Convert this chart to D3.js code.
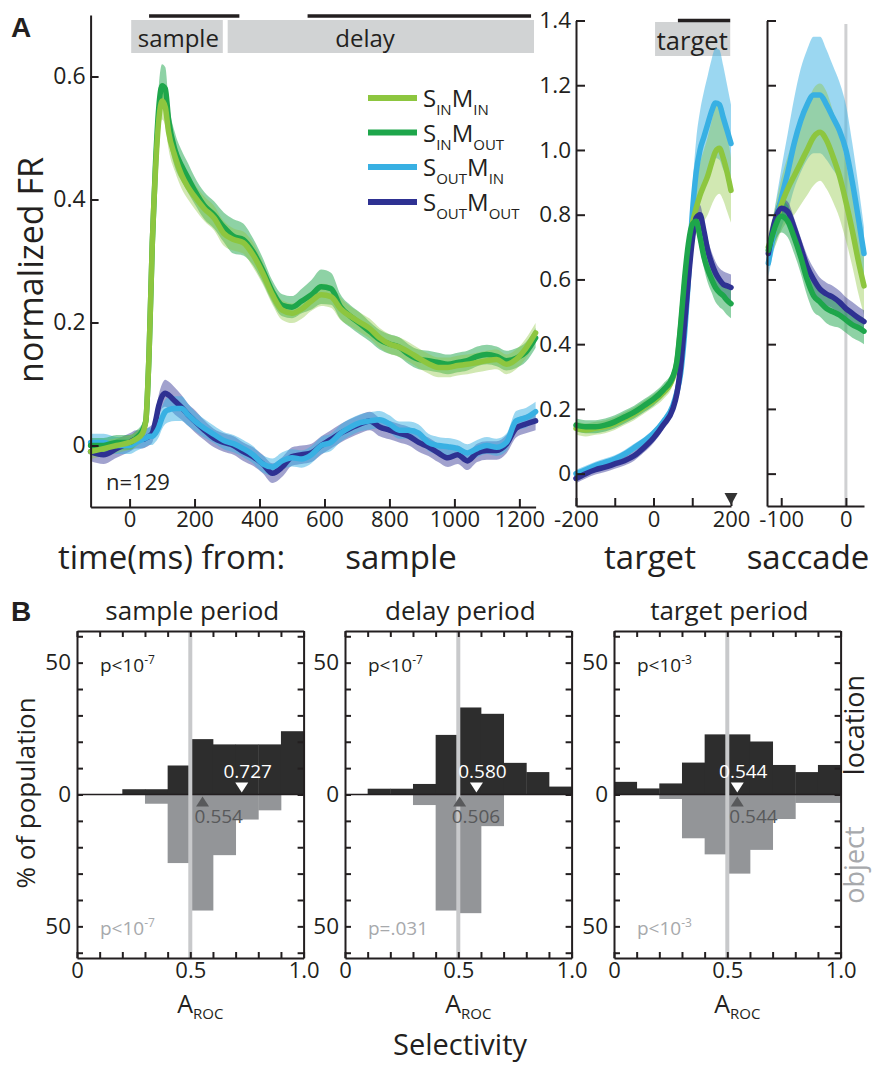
<!DOCTYPE html>
<html>
<head>
<meta charset="utf-8">
<script src="https://cdn.jsdelivr.net/npm/d3@7/dist/d3.min.js"></script>
<style>
  body { margin: 0; background: #fff; }
  svg { display: block; }
</style>
</head>
<body>
<div id="fig"></div>
<script>
// ---------- panel A data (normalized firing rate) ----------
var seriesKeys = ['SinMin', 'SinMout', 'SoutMin', 'SoutMout'];
var legendSubs = [['IN', 'IN'], ['IN', 'OUT'], ['OUT', 'IN'], ['OUT', 'OUT']];

var tSample = [-120,-80,-40,0,20,40,50,60,70,80,
  90,100,110,120,140,160,180,200,230,260,
  290,320,350,380,410,440,470,500,530,560,
  590,620,650,680,710,740,770,800,830,860,
  890,920,950,980,1010,1040,1070,1100,1130,1160,
  1190,1220,1250];
var sampleSinMin = [-0.01,-0.005,0.0,0.005,0.01,0.02,0.04,0.15,0.33,0.45,
  0.53,0.56,0.55,0.51,0.47,0.44,0.42,0.405,0.385,0.37,
  0.345,0.335,0.33,0.31,0.28,0.245,0.22,0.215,0.222,0.235,
  0.245,0.242,0.222,0.21,0.2,0.19,0.175,0.165,0.16,0.152,
  0.142,0.133,0.127,0.127,0.13,0.132,0.135,0.138,0.14,0.132,
  0.14,0.158,0.183];
var sampleSinMout = [0.0,0.0,0.005,0.005,0.012,0.025,0.04,0.15,0.33,0.46,
  0.55,0.585,0.58,0.53,0.48,0.455,0.435,0.415,0.39,0.375,
  0.355,0.34,0.335,0.315,0.285,0.25,0.228,0.225,0.235,0.245,
  0.258,0.255,0.225,0.21,0.198,0.185,0.172,0.165,0.16,0.148,
  0.14,0.138,0.135,0.132,0.135,0.138,0.145,0.148,0.145,0.138,
  0.142,0.152,0.175];
var sampleSoutMin = [0.005,0.005,0.0,0.0,0.005,0.01,0.012,0.015,0.015,0.02,
  0.03,0.045,0.055,0.058,0.06,0.06,0.05,0.04,0.028,0.018,
  0.008,0.003,-0.005,-0.015,-0.03,-0.035,-0.025,-0.02,-0.022,-0.015,
  0.0,0.005,0.02,0.03,0.037,0.04,0.042,0.035,0.025,0.025,
  0.02,0.005,0.0,-0.002,-0.005,-0.012,-0.005,0.0,-0.003,0.005,
  0.04,0.045,0.055];
var sampleSoutMout = [-0.01,-0.015,-0.005,0.005,0.01,0.01,0.012,0.015,0.02,0.04,
  0.065,0.08,0.085,0.082,0.072,0.062,0.05,0.04,0.025,0.012,
  0.005,0.0,-0.01,-0.018,-0.03,-0.045,-0.035,-0.018,-0.015,-0.012,
  0.0,0.01,0.02,0.028,0.035,0.04,0.03,0.025,0.02,0.015,
  0.005,-0.002,-0.012,-0.02,-0.015,-0.025,-0.012,-0.008,-0.008,0.002,
  0.028,0.035,0.04];
// half widths of the shaded bands
var sampleErrSinMin = [0.012,0.012,0.012,0.012,0.012,0.012,0.012,0.015,0.02,0.025,
  0.03,0.03,0.03,0.028,0.025,0.022,0.02,0.02,0.02,0.02,
  0.02,0.018,0.018,0.02,0.018,0.016,0.016,0.016,0.016,0.016,
  0.018,0.018,0.018,0.016,0.016,0.016,0.016,0.016,0.016,0.016,
  0.016,0.016,0.016,0.016,0.016,0.016,0.016,0.016,0.016,0.016,
  0.016,0.016,0.016];
var sampleErrSinMout = [0.012,0.012,0.012,0.012,0.012,0.012,0.012,0.015,0.02,0.028,
  0.035,0.035,0.035,0.03,0.028,0.025,0.024,0.022,0.022,0.022,
  0.024,0.028,0.026,0.022,0.02,0.018,0.018,0.018,0.02,0.024,
  0.028,0.026,0.02,0.018,0.018,0.016,0.016,0.016,0.016,0.016,
  0.016,0.016,0.016,0.016,0.016,0.016,0.016,0.016,0.016,0.016,
  0.016,0.016,0.016];
var sampleErrSoutMin = [0.014,0.014,0.014,0.014,0.014,0.014,0.014,0.014,0.014,0.014,
  0.016,0.018,0.02,0.02,0.02,0.02,0.018,0.016,0.015,0.014,
  0.014,0.014,0.014,0.014,0.014,0.014,0.014,0.014,0.014,0.014,
  0.014,0.014,0.014,0.014,0.014,0.014,0.014,0.014,0.014,0.014,
  0.014,0.014,0.014,0.014,0.014,0.014,0.014,0.014,0.014,0.014,
  0.016,0.016,0.016];
var sampleErrSoutMout = [0.015,0.015,0.015,0.015,0.015,0.015,0.015,0.015,0.015,0.015,
  0.018,0.02,0.022,0.022,0.022,0.02,0.018,0.018,0.016,0.015,
  0.015,0.015,0.015,0.015,0.015,0.016,0.016,0.015,0.015,0.015,
  0.015,0.015,0.015,0.015,0.015,0.015,0.015,0.015,0.015,0.015,
  0.015,0.015,0.015,0.015,0.015,0.015,0.015,0.015,0.015,0.015,
  0.015,0.015,0.015];

var tTarget = [-200,-175,-150,-125,-100,-75,-50,-25,0,25,50,60,70,80,90,100,110,120,130,140,150,160,170,180,190,200];
var targetSinMin = [0.14,0.135,0.14,0.145,0.155,0.17,0.185,0.205,0.225,0.25,0.295,0.34,0.45,0.58,0.69,0.77,0.82,0.86,0.89,0.92,0.96,0.995,1.005,0.975,0.93,0.875];
var targetSinMout = [0.15,0.145,0.145,0.15,0.16,0.175,0.19,0.21,0.23,0.258,0.3,0.345,0.46,0.6,0.71,0.77,0.78,0.73,0.67,0.63,0.6,0.575,0.56,0.55,0.535,0.525];
var targetSoutMin = [0.0,0.012,0.025,0.035,0.045,0.06,0.08,0.1,0.125,0.16,0.21,0.25,0.31,0.43,0.6,0.8,0.93,1.0,1.04,1.08,1.12,1.145,1.14,1.1,1.06,1.02];
var targetSoutMout = [-0.015,0.0,0.012,0.02,0.03,0.04,0.055,0.08,0.11,0.15,0.2,0.245,0.33,0.46,0.6,0.72,0.79,0.8,0.75,0.69,0.65,0.62,0.6,0.585,0.58,0.575];
var targetErrSinMin = [0.02,0.02,0.02,0.02,0.02,0.02,0.02,0.02,0.02,0.02,0.02,0.02,0.025,0.03,0.04,0.06,0.08,0.1,0.11,0.12,0.13,0.14,0.14,0.13,0.12,0.1];
var targetErrSinMout = [0.02,0.02,0.02,0.02,0.02,0.02,0.02,0.02,0.02,0.02,0.02,0.02,0.025,0.03,0.03,0.03,0.03,0.035,0.035,0.04,0.04,0.045,0.045,0.045,0.045,0.045];
var targetErrSoutMin = [0.012,0.012,0.012,0.012,0.012,0.012,0.012,0.012,0.012,0.012,0.015,0.015,0.02,0.03,0.05,0.07,0.1,0.12,0.14,0.15,0.16,0.17,0.17,0.16,0.14,0.12];
var targetErrSoutMout = [0.015,0.015,0.015,0.015,0.015,0.015,0.015,0.015,0.015,0.015,0.015,0.015,0.02,0.02,0.025,0.03,0.03,0.03,0.03,0.035,0.035,0.035,0.035,0.04,0.04,0.04];

var tSaccade = [-120,-110,-100,-90,-80,-70,-60,-50,-40,-30,-20,-10,0,10,20,28];
var saccSinMin = [0.7,0.76,0.83,0.88,0.92,0.96,1.0,1.04,1.055,1.03,0.98,0.92,0.84,0.75,0.65,0.58];
var saccSinMout = [0.69,0.76,0.795,0.78,0.73,0.67,0.6,0.55,0.53,0.51,0.5,0.49,0.475,0.46,0.45,0.44];
var saccSoutMin = [0.65,0.76,0.85,0.93,1.02,1.09,1.14,1.17,1.17,1.14,1.1,1.06,1.0,0.9,0.78,0.68];
var saccSoutMout = [0.68,0.78,0.82,0.81,0.76,0.7,0.64,0.6,0.57,0.555,0.545,0.53,0.51,0.495,0.48,0.47];
var saccErrSinMin = [0.04,0.06,0.08,0.1,0.12,0.13,0.14,0.15,0.15,0.15,0.14,0.13,0.12,0.11,0.1,0.09];
var saccErrSinMout = [0.04,0.045,0.05,0.05,0.05,0.05,0.05,0.05,0.045,0.045,0.045,0.04,0.04,0.04,0.04,0.04];
var saccErrSoutMin = [0.04,0.06,0.09,0.12,0.14,0.16,0.17,0.18,0.18,0.17,0.16,0.15,0.14,0.12,0.1,0.08];
var saccErrSoutMout = [0.03,0.03,0.03,0.03,0.03,0.03,0.035,0.035,0.035,0.035,0.035,0.035,0.035,0.035,0.035,0.035];

// epochs (ms)
var sampleEpoch = [5, 287];
var delayEpoch = [302, 1245];
var sampleWindow = [60, 338];
var delayWindow = [548, 1236];
var targetEpoch = [4, 198];
var targetWindow = [63, 198];

var sampleTicks = [0, 200, 400, 600, 800, 1000, 1200];
var sampleYTicks = [0, 0.2, 0.4, 0.6];
var targetTicks = [-200, -100, 0, 100, 200];
var targetTickLabels = ['-200', '', '0', '', '200'];
var frTicks = [0, 0.2, 0.4, 0.6, 0.8, 1.0, 1.2, 1.4];
var saccadeTicks = [-100, 0];

// ---------- panel B data (% of population per A_ROC bin) ----------
var aRocBins = [0, 0.1, 0.2, 0.3, 0.4, 0.5, 0.6, 0.7, 0.8, 0.9];
var sampleLoc = [0, 0, 2, 2, 11, 21, 19, 19, 19, 24];
var sampleObj = [0, 0, 0, 3.5, 26, 44, 23, 9.5, 6, 0];
var delayLoc = [0, 2.2, 2.2, 4, 22.6, 33, 30.6, 12, 8.5, 3];
var delayObj = [0, 0, 0, 4, 44, 45, 12, 0, 0, 0];
var targetLoc = [4.8, 2.3, 4.2, 12.1, 22.8, 22.8, 20.1, 11.2, 8.5, 11.2];
var targetObj = [0, 0, 1.7, 16.6, 22.7, 30, 21, 9.3, 3.2, 3.2];
var medianLoc = [0.727, 0.580, 0.544];
var medianObj = [0.554, 0.506, 0.544];
var periodTitles = ['sample period', 'delay period', 'target period'];
var pLoc = [['p<10', '-7'], ['p<10', '-7'], ['p<10', '-3']];
var pObj = [['p<10', '-7'], ['p=.031', ''], ['p<10', '-3']];
var bYTicks = [-60, -50, -40, -30, -20, -10, 0, 10, 20, 30, 40, 50, 60];
var bXTicks = [0, 0.1, 0.2, 0.3, 0.4, 0.5, 0.6, 0.7, 0.8, 0.9, 1.0];

// ---------- drawing ----------
var font = '"Open Sans", sans-serif';
var ink = '#231f20';
var colors = { SinMin: '#8dc63f', SinMout: '#1ea64b', SoutMin: '#38b0e3', SoutMout: '#2e3192' };
var bandOpacity = { SinMin: 0.4, SinMout: 0.5, SoutMin: 0.5, SoutMout: 0.45 };

var svg = d3.select('#fig').append('svg')
  .attr('width', 872).attr('height', 1065)
  .style('font-family', font);

function fmtFR(d) { return d === 0 ? '0' : d3.format('.1f')(d); }

function styleAxis(g, size) {
  g.attr('font-family', font).attr('font-size', size).attr('color', ink);
  g.select('.domain').attr('stroke-width', 2);
  g.selectAll('.tick line').attr('stroke-width', 2);
}

function drawTraces(g, xs, ys, t, vals, errs, order) {
  order.forEach(function (k) {
    var area = d3.area().curve(d3.curveMonotoneX)
      .x(function (d, i) { return xs(t[i]); })
      .y0(function (d, i) { return ys(d - errs[k][i]); })
      .y1(function (d, i) { return ys(d + errs[k][i]); });
    g.append('path').datum(vals[k]).attr('d', area)
      .attr('fill', colors[k]).attr('fill-opacity', bandOpacity[k]);
  });
  order.forEach(function (k) {
    var line = d3.line().curve(d3.curveMonotoneX)
      .x(function (d, i) { return xs(t[i]); })
      .y(function (d) { return ys(d); });
    g.append('path').datum(vals[k]).attr('d', line)
      .attr('fill', 'none').attr('stroke', colors[k]).attr('stroke-width', 5.5)
      .attr('stroke-linejoin', 'round').attr('stroke-linecap', 'round');
  });
}

function epochBox(xs, span, y0, y1, label, lx, size) {
  svg.append('rect').attr('x', xs(span[0])).attr('y', y0)
    .attr('width', xs(span[1]) - xs(span[0])).attr('height', y1 - y0)
    .attr('fill', '#d1d3d4');
  svg.append('text').attr('x', lx).attr('y', y1 - 6).attr('text-anchor', 'middle')
    .attr('font-size', size).attr('fill', ink).text(label);
}
function windowBar(xs, span, y) {
  svg.append('line').attr('x1', xs(span[0])).attr('x2', xs(span[1]))
    .attr('y1', y).attr('y2', y).attr('stroke', ink).attr('stroke-width', 3.5);
}

// --- scales: sample aligned, target aligned, saccade aligned
var xS = d3.scaleLinear().domain([-120, 1250]).range([90.6, 535.6]);
var yS = d3.scaleLinear().domain([-0.1, 0.7]).range([507, 15]);
var xT = d3.scaleLinear().domain([-200, 200]).range([576, 731]);
var yT = d3.scaleLinear().domain([-0.1, 1.4]).range([506, 20.5]);
var xC = d3.scaleLinear().domain([-122, 28]).range([767, 864]);

epochBox(xS, sampleEpoch, 20, 53, 'sample', xS(150), 24);
epochBox(xS, delayEpoch, 20, 53, 'delay', xS(725), 24);
windowBar(xS, sampleWindow, 16);
windowBar(xS, delayWindow, 16);
epochBox(xT, targetEpoch, 22, 56, 'target', xT(100), 25.5);
windowBar(xT, targetWindow, 20.5);

var gS = svg.append('g');
drawTraces(gS, xS, yS, tSample,
  { SinMin: sampleSinMin, SinMout: sampleSinMout, SoutMin: sampleSoutMin, SoutMout: sampleSoutMout },
  { SinMin: sampleErrSinMin, SinMout: sampleErrSinMout, SoutMin: sampleErrSoutMin, SoutMout: sampleErrSoutMout },
  ['SoutMout', 'SoutMin', 'SinMout', 'SinMin']);

var gT = svg.append('g');
drawTraces(gT, xT, yT, tTarget,
  { SinMin: targetSinMin, SinMout: targetSinMout, SoutMin: targetSoutMin, SoutMout: targetSoutMout },
  { SinMin: targetErrSinMin, SinMout: targetErrSinMout, SoutMin: targetErrSoutMin, SoutMout: targetErrSoutMout },
  ['SoutMin', 'SinMin', 'SoutMout', 'SinMout']);

// saccade onset marker line
svg.append('line').attr('x1', xC(0)).attr('x2', xC(0)).attr('y1', 24).attr('y2', 506)
  .attr('stroke', '#cfd0d2').attr('stroke-width', 3);

var gC = svg.append('g');
drawTraces(gC, xC, yT, tSaccade,
  { SinMin: saccSinMin, SinMout: saccSinMout, SoutMin: saccSoutMin, SoutMout: saccSoutMout },
  { SinMin: saccErrSinMin, SinMout: saccErrSinMout, SoutMin: saccErrSoutMin, SoutMout: saccErrSoutMout },
  ['SoutMin', 'SinMin', 'SoutMout', 'SinMout']);

// axes A
styleAxis(svg.append('g').attr('transform', 'translate(0,507)')
  .call(d3.axisBottom(xS).tickValues(sampleTicks).tickSize(-8).tickSizeOuter(0).tickPadding(4)
    .tickFormat(function (d) { return String(d); })), 22);
styleAxis(svg.append('g').attr('transform', 'translate(90.6,0)')
  .call(d3.axisLeft(yS).tickValues(sampleYTicks).tickSize(-8).tickSizeOuter(0).tickPadding(5)
    .tickFormat(fmtFR)), 23);

styleAxis(svg.append('g').attr('transform', 'translate(0,506)')
  .call(d3.axisBottom(xT).tickValues(targetTicks).tickSize(-8).tickSizeOuter(0).tickPadding(5)
    .tickFormat(function (d, i) { return targetTickLabels[i]; })), 22);
styleAxis(svg.append('g').attr('transform', 'translate(576,0)')
  .call(d3.axisLeft(yT).tickValues(frTicks).tickSize(-9).tickSizeOuter(0).tickPadding(5)
    .tickFormat(fmtFR)), 22.5);

styleAxis(svg.append('g').attr('transform', 'translate(0,506)')
  .call(d3.axisBottom(xC).tickValues(saccadeTicks).tickSize(-8).tickSizeOuter(0).tickPadding(5)
    .tickFormat(function (d) { return String(d); })), 22);
styleAxis(svg.append('g').attr('transform', 'translate(767,0)')
  .call(d3.axisLeft(yT).tickValues(frTicks).tickSize(-9).tickSizeOuter(0)
    .tickFormat('')), 22.5);

// target-period end marker
svg.append('path')
  .attr('d', 'M' + (xT(200) - 6.5) + ',493 L' + (xT(200) + 6.5) + ',493 L' + xT(200) + ',505 Z')
  .attr('fill', '#333');

// legend
var legendY = [98, 132.5, 167, 202];
seriesKeys.forEach(function (k, i) {
  svg.append('line').attr('x1', 368).attr('x2', 417).attr('y1', legendY[i]).attr('y2', legendY[i])
    .attr('stroke', colors[k]).attr('stroke-width', 6);
  var t = svg.append('text').attr('x', 423).attr('y', legendY[i] + 9).attr('fill', ink).attr('font-size', 24);
  t.append('tspan').text('S');
  t.append('tspan').attr('dy', 8).attr('font-size', 15).text(legendSubs[i][0]);
  t.append('tspan').attr('dy', -8).text('M');
  t.append('tspan').attr('dy', 8).attr('font-size', 15).text(legendSubs[i][1]);
});

svg.append('text').attr('x', 106).attr('y', 490).attr('font-size', 22).attr('fill', ink).text('n=129');
svg.append('text').attr('transform', 'translate(43,270) rotate(-90)').attr('text-anchor', 'middle')
  .attr('font-size', 34).attr('fill', ink).text('normalized FR');
svg.append('text').attr('x', 58).attr('y', 569).attr('font-size', 33).attr('fill', ink).text('time(ms) from:');
svg.append('text').attr('x', 401).attr('y', 569).attr('text-anchor', 'middle').attr('font-size', 33).attr('fill', ink).text('sample');
svg.append('text').attr('x', 650).attr('y', 569).attr('text-anchor', 'middle').attr('font-size', 33).attr('fill', ink).text('target');
svg.append('text').attr('x', 808).attr('y', 569).attr('text-anchor', 'middle').attr('font-size', 33).attr('fill', ink).text('saccade');
svg.append('text').attr('x', 11).attr('y', 37).attr('font-size', 28).attr('font-weight', 'bold')
  .attr('font-family', 'Arial, "Liberation Sans", sans-serif').attr('fill', ink).text('A');

// ---------- panel B ----------
var bLeft = [77, 345, 614];
var bWidth = 226.6;
var locSets = [sampleLoc, delayLoc, targetLoc];
var objSets = [sampleObj, delayObj, targetObj];
var yB = d3.scaleLinear().domain([-62, 62]).range([958, 631]);

bLeft.forEach(function (L, p) {
  var x = d3.scaleLinear().domain([0, 1]).range([L, L + bWidth]);
  var g = svg.append('g');
  var binW = x(0.1) - x(0);

  g.selectAll('rect.loc').data(locSets[p]).join('rect')
    .attr('x', function (d, i) { return x(aRocBins[i]); })
    .attr('width', binW + 0.4)
    .attr('y', function (d) { return yB(d); })
    .attr('height', function (d) { return yB(0) - yB(d); })
    .attr('fill', '#2d2d2d');
  g.selectAll('rect.obj').data(objSets[p]).join('rect')
    .attr('x', function (d, i) { return x(aRocBins[i]); })
    .attr('width', binW + 0.4)
    .attr('y', yB(0))
    .attr('height', function (d) { return yB(-d) - yB(0); })
    .attr('fill', '#939598');

  g.append('line').attr('x1', x(0)).attr('x2', x(1)).attr('y1', yB(0)).attr('y2', yB(0))
    .attr('stroke', ink).attr('stroke-width', 1.5);
  g.append('line').attr('x1', x(0.5)).attr('x2', x(0.5)).attr('y1', yB(62)).attr('y2', yB(-62))
    .attr('stroke', '#c8c9cb').attr('stroke-width', 4);

  // axes (inward ticks on all four sides)
  styleAxis(g.append('g').attr('transform', 'translate(' + L + ',0)')
    .call(d3.axisLeft(yB).tickValues(bYTicks).tickSize(-6).tickSizeOuter(0).tickPadding(6)
      .tickFormat(function (d) { return Math.abs(d) === 50 ? '50' : (d === 0 ? '0' : ''); })), 22.5);
  styleAxis(g.append('g').attr('transform', 'translate(' + (L + bWidth) + ',0)')
    .call(d3.axisRight(yB).tickValues(bYTicks).tickSize(-6).tickSizeOuter(0).tickFormat('')), 22);
  styleAxis(g.append('g').attr('transform', 'translate(0,958)')
    .call(d3.axisBottom(x).tickValues(bXTicks).tickSize(-6).tickSizeOuter(0).tickPadding(4)
      .tickFormat(function (d) { return d === 0 ? '0' : (d === 0.5 ? '0.5' : (d === 1 ? '1.0' : '')); })), 22);
  styleAxis(g.append('g').attr('transform', 'translate(0,631)')
    .call(d3.axisTop(x).tickValues(bXTicks).tickSize(-6).tickSizeOuter(0).tickFormat('')), 22);

  // medians
  var mx = x(medianLoc[p]);
  g.append('path').attr('d', 'M' + (mx - 6.5) + ',' + (yB(0) - 12) + ' L' + (mx + 6.5) + ',' + (yB(0) - 12) +
    ' L' + mx + ',' + (yB(0) - 2) + ' Z').attr('fill', '#fff');
  g.append('text').attr('x', mx + 6).attr('y', 778).attr('text-anchor', 'middle')
    .attr('font-size', 19).attr('fill', '#fff').text(d3.format('.3f')(medianLoc[p]));
  var ox = x(medianObj[p]);
  g.append('path').attr('d', 'M' + (ox - 6.5) + ',' + (yB(0) + 12) + ' L' + (ox + 6.5) + ',' + (yB(0) + 12) +
    ' L' + ox + ',' + (yB(0) + 2) + ' Z').attr('fill', '#58595b');
  g.append('text').attr('x', ox - 8).attr('y', 823)
    .attr('font-size', 19).attr('fill', '#58595b').text(d3.format('.3f')(medianObj[p]));

  // p values
  var pt = g.append('text').attr('x', L + 23).attr('y', 672).attr('font-size', 19).attr('fill', ink);
  pt.append('tspan').text(pLoc[p][0]);
  pt.append('tspan').attr('dy', -8).attr('font-size', 12).text(pLoc[p][1]);
  var po = g.append('text').attr('x', L + 23).attr('y', 935).attr('font-size', 19).attr('fill', '#a7a9ac');
  po.append('tspan').text(pObj[p][0]);
  po.append('tspan').attr('dy', -8).attr('font-size', 12).text(pObj[p][1]);

  g.append('text').attr('x', L + bWidth / 2 + 2).attr('y', 620).attr('text-anchor', 'middle')
    .attr('font-size', 26).attr('fill', ink).text(periodTitles[p]);

  var ar = g.append('text').attr('x', L + bWidth / 2 + 10).attr('y', 1013).attr('text-anchor', 'middle')
    .attr('font-size', 25).attr('fill', ink);
  ar.append('tspan').text('A');
  ar.append('tspan').attr('dy', 6).attr('font-size', 15).text('ROC');
});

svg.append('text').attr('transform', 'translate(35,793) rotate(-90)').attr('text-anchor', 'middle')
  .attr('font-size', 26).attr('fill', ink).text('% of population');
svg.append('text').attr('transform', 'translate(864,725) rotate(-90)').attr('text-anchor', 'middle')
  .attr('font-size', 27).attr('fill', ink).text('location');
svg.append('text').attr('transform', 'translate(864,865) rotate(-90)').attr('text-anchor', 'middle')
  .attr('font-size', 27).attr('fill', '#a7a9ac').text('object');
svg.append('text').attr('x', 460).attr('y', 1055).attr('text-anchor', 'middle')
  .attr('font-size', 29).attr('fill', ink).text('Selectivity');
svg.append('text').attr('x', 11).attr('y', 621).attr('font-size', 28).attr('font-weight', 'bold')
  .attr('font-family', 'Arial, "Liberation Sans", sans-serif').attr('fill', ink).text('B');
</script>
</body>
</html>
